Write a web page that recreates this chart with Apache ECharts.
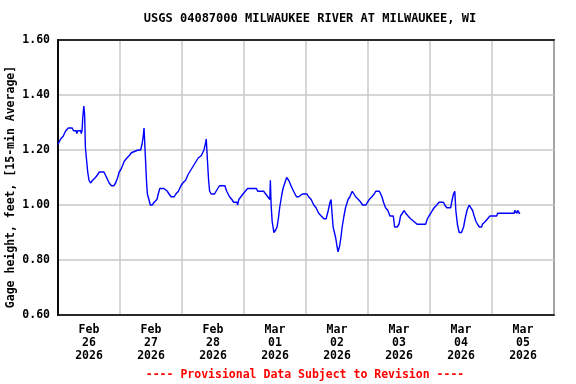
<!DOCTYPE html>
<html>
<head>
<meta charset="utf-8">
<script src="https://cdn.jsdelivr.net/npm/echarts@6/dist/echarts.min.js"></script>
<style>html,body{margin:0;padding:0;background:#fff}#c{width:576px;height:384px}</style>
</head>
<body>
<div id="c"></div>
<script>
// hours since Feb 26 2026 00:00
var hours = [0,1,2,3,4,5.5,6,7,7.3,7.6,8.8,9,9.3,9.6,10,10.3,10.6,11.1,11.5,12,12.6,13.4,14.5,15.3,16,17.8,18.8,19.8,20.7,21.6,22.3,23.1,23.7,24.4,25.7,26.6,27.6,28.4,29,31,32,32.5,33,33.3,33.6,34,34.3,34.6,35.2,35.7,36.5,37.2,38.3,38.8,39.4,41,42.3,43,43.8,45,45.6,46.6,47.6,48.3,49.4,50.3,51.6,52.9,54.2,55.5,56.5,57,57.4,57.8,58.3,58.7,59.3,60.6,61.2,62.5,64.6,65.3,66.4,67.3,68,69.3,69.5,70,70.8,71.6,72.5,73.4,76.8,77.3,79.6,80.4,81.2,82,82.2,82.5,82.9,83.4,83.6,84.3,84.8,85.3,85.8,86.5,87.1,87.8,88.5,89.3,90.2,91.2,92.3,93.2,94.6,95.1,96.4,97,98,99,99.9,100.9,101.9,102.9,103.8,104.6,105.3,105.7,106,106.5,107.5,108,108.4,109,109.5,110,110.7,111.3,112.3,113,113.9,114.6,115.2,116.3,117.2,117.9,119.2,119.8,120.5,121.5,122.4,123,124.4,125.4,126,126.8,127.7,128.5,129.8,130.3,131.3,132,132.6,133.3,134,134.6,135.5,136.5,137.8,139,142.3,143,143.6,144.3,144.9,145.6,146.6,147.5,149.2,149.7,150.5,152,152.6,153.1,153.6,154,154.6,155.3,156.2,157,157.6,158.3,158.7,159.2,159.8,160.5,161.1,161.8,162.4,163.1,164,164.3,165.4,166.3,167.2,169.8,170.2,176.6,176.8,177.4,177.6,177.9,178.4,178.6,178.9];
var gage = [1.22,1.24,1.25,1.27,1.28,1.28,1.27,1.27,1.26,1.27,1.27,1.26,1.27,1.32,1.36,1.33,1.21,1.16,1.12,1.09,1.08,1.09,1.10,1.11,1.12,1.12,1.10,1.08,1.07,1.07,1.08,1.10,1.12,1.13,1.16,1.17,1.18,1.19,1.19,1.20,1.20,1.22,1.25,1.28,1.22,1.14,1.08,1.04,1.02,1.00,1.00,1.01,1.02,1.04,1.06,1.06,1.05,1.04,1.03,1.03,1.04,1.05,1.07,1.08,1.09,1.11,1.13,1.15,1.17,1.18,1.20,1.22,1.24,1.17,1.09,1.05,1.04,1.04,1.05,1.07,1.07,1.05,1.03,1.02,1.01,1.01,1.00,1.02,1.03,1.04,1.05,1.06,1.06,1.05,1.05,1.04,1.03,1.02,1.09,1.00,0.94,0.91,0.90,0.91,0.92,0.95,0.99,1.03,1.06,1.08,1.10,1.09,1.07,1.05,1.03,1.03,1.04,1.04,1.04,1.03,1.02,1.00,0.99,0.97,0.96,0.95,0.95,0.98,1.01,1.02,0.98,0.92,0.88,0.85,0.83,0.85,0.88,0.92,0.96,0.99,1.02,1.03,1.05,1.05,1.03,1.02,1.01,1.00,1.00,1.01,1.02,1.03,1.04,1.05,1.05,1.03,1.01,0.99,0.98,0.96,0.96,0.92,0.92,0.93,0.96,0.97,0.98,0.97,0.96,0.95,0.94,0.93,0.93,0.95,0.96,0.97,0.98,0.99,1.00,1.01,1.01,1.00,0.99,0.99,1.02,1.04,1.05,0.98,0.93,0.90,0.90,0.92,0.95,0.98,0.99,1.00,0.99,0.98,0.96,0.94,0.93,0.92,0.92,0.93,0.94,0.95,0.96,0.96,0.97,0.97,0.98,0.98,0.97,0.98,0.98,0.97,0.97];
var dayLabels = ['Feb\n26\n2026','Feb\n27\n2026','Feb\n28\n2026','Mar\n01\n2026','Mar\n02\n2026','Mar\n03\n2026','Mar\n04\n2026','Mar\n05\n2026'];
var titleText = 'USGS 04087000 MILWAUKEE RIVER AT MILWAUKEE, WI';
var yName = 'Gage height, feet, [15-min Average]';
var footer = '---- Provisional Data Subject to Revision ----';

var FONT = '"DejaVu Sans Mono", "Liberation Mono", monospace';
var pts = hours.map(function (h, i) { return [h, gage[i]]; });
var frameLine = {show: true, lineStyle: {color: '#000', width: 1.5}};
var chart = echarts.init(document.getElementById('c'), null, {renderer: 'canvas'});
chart.setOption({
  animation: false,
  backgroundColor: '#fff',
  grid: {left: 58, right: 22, top: 40, bottom: 69, show: true, borderColor: '#000', borderWidth: 1.5, backgroundColor: '#fff'},
  graphic: [
    {type: 'text', position: [310, 19], style: {text: titleText, textAlign: 'center', textVerticalAlign: 'middle', font: 'bold 12px ' + FONT, fill: '#000'}},
    {type: 'text', position: [11, 187], rotation: Math.PI / 2, style: {text: yName, textAlign: 'center', textVerticalAlign: 'middle', font: 'bold 11.5px ' + FONT, fill: '#000'}},
    {type: 'text', position: [305, 375], style: {text: footer, textAlign: 'center', textVerticalAlign: 'middle', font: 'bold 11.5px ' + FONT, fill: '#ff0000'}}
  ],
  xAxis: [
    {type: 'value', min: 0, max: 192, interval: 12, position: 'bottom',
      axisLine: frameLine, axisTick: {show: false}, splitLine: {show: false},
      axisLabel: {show: true, margin: 9, lineHeight: 13, color: '#000', fontFamily: FONT, fontWeight: 'bold', fontSize: 11.5,
        showMinLabel: true, showMaxLabel: true,
        formatter: function (v) { return (v % 24 === 12) ? dayLabels[(v - 12) / 24] : ''; }}},
    {type: 'value', min: 0, max: 192, interval: 24, position: 'top',
      axisLine: frameLine, axisTick: {show: false}, axisLabel: {show: false},
      splitLine: {show: true, lineStyle: {color: '#c8c8c8', width: 1.5}}}
  ],
  yAxis: [
    {type: 'value', min: 0.6, max: 1.6, interval: 0.2, position: 'left',
      axisLine: frameLine, axisTick: {show: false},
      splitLine: {show: true, lineStyle: {color: '#c8c8c8', width: 1.5}},
      axisLabel: {margin: 8, color: '#000', fontFamily: FONT, fontWeight: 'bold', fontSize: 11.5,
        formatter: function (v) { return v.toFixed(2); }}},
    {type: 'value', min: 0.6, max: 1.6, interval: 0.2, position: 'right',
      axisLine: frameLine, axisTick: {show: false}, splitLine: {show: false}, axisLabel: {show: false}}
  ],
  series: [{
    type: 'line', xAxisIndex: 0, yAxisIndex: 0, data: pts, showSymbol: false, symbol: 'none',
    lineStyle: {color: '#0000ff', width: 1.4}, silent: true
  }]
});
</script>
</body>
</html>
